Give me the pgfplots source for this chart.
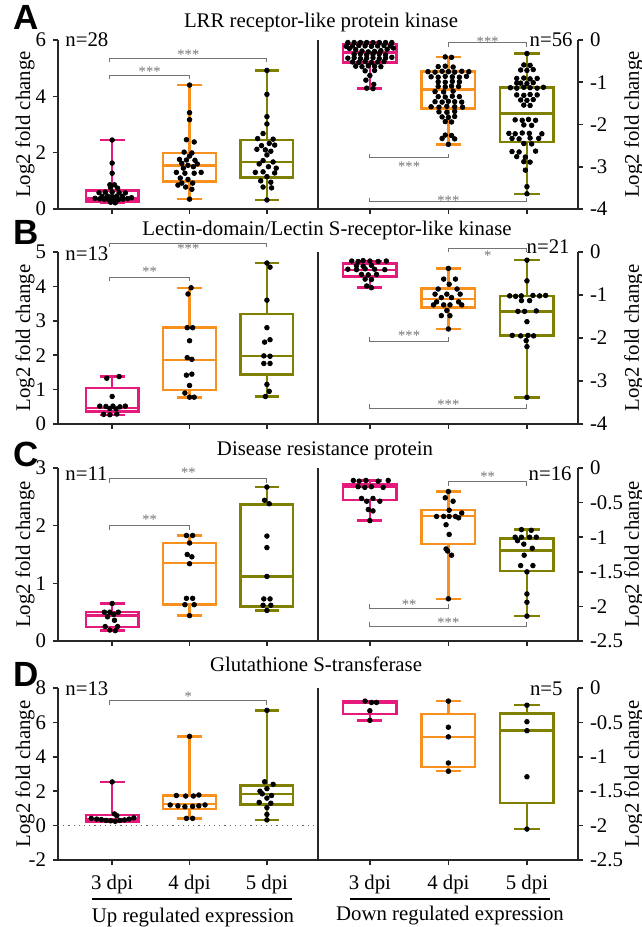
\documentclass[border=0pt]{standalone}
\usepackage{fontspec}
\setmainfont{Liberation Serif}
\newfontfamily\hv{Liberation Sans}
\usepackage{pgfplots}
\pgfplotsset{compat=1.18}
\usepgfplotslibrary{statistics}

\definecolor{cpink}{RGB}{230,25,125}
\definecolor{corange}{RGB}{247,144,30}
\definecolor{colive}{RGB}{128,128,0}
\newcommand{\tf}{\fontsize{10.4}{12}\selectfont}
\newcommand{\stf}{\fontsize{7.3}{8}\selectfont}
\tikzset{axl/.style={black!85, line width=0.8pt}}

\pgfplotsset{
  base/.style={
    scale only axis, width=130pt, clip=false, anchor=south west,
    axis x line*=bottom,
    axis line style={-, black!85, line width=0.8pt},
    tick style={black!85, line width=0.8pt},
    tick align=outside, major tick length=2.5pt,
    xtick={1,2,3},
    tick label style={font=\tf},
    xticklabel style={yshift=-1.5pt},
    label style={font=\tf},
    ylabel={Log2 fold change},
  },
  L/.style={base, axis y line*=left, xmin=0.3, xmax=3.66,
    ylabel style={at={(axis description cs:-0.127,0.5)}, anchor=center}},
  R/.style={base, axis y line*=right, xmin=0.34, xmax=3.65,
    ylabel style={at={(axis description cs:1.215,0.5)}, anchor=center}},
  nox/.style={xticklabels={,,}},
}

% colour, position, lower whisker, lower quartile, median, upper quartile, upper whisker
\newcommand{\bx}[7]{\addplot[#1, line width=1.2pt, boxplot prepared={draw direction=y, draw position=#2,
  lower whisker=#3, lower quartile=#4, median=#5, upper quartile=#6, upper whisker=#7,
  box extend=0.68, whisker extend=0.32}] coordinates {};}
\newcommand{\pts}[1]{\addplot[only marks, mark=*, mark size=1.15pt, black] coordinates {#1};}
% x1, x2, y, tick shift, label y, label
\newcommand{\brk}[6]{%
  \draw[black!55, line width=0.5pt] ([yshift=#4]axis cs:#1,#3) -- (axis cs:#1,#3) -- (axis cs:#2,#3) -- ([yshift=#4]axis cs:#2,#3);
  \node[black!55, font=\stf, inner sep=0pt, yshift=-1pt] at (axis cs:{(#1+#2)/2},#5) {#6};}

\begin{document}
\begin{tikzpicture}
\useasboundingbox (0,0) rectangle (321pt,-463.5pt);

% ---------------- A ----------------
\begin{axis}[L, nox, at={(29pt,-104.5pt)}, height=84.5pt, ymin=0, ymax=6,
  ytick={0,2,4,6}, yticklabels={0,2,4,6}]
  \draw[axl] (rel axis cs:1,0) -- (rel axis cs:1,1);
  \bx{cpink}{1}{0.22}{0.26}{0.38}{0.65}{2.45}
  \bx{corange}{2}{0.35}{0.98}{1.55}{1.99}{4.40}
  \bx{colive}{3}{0.32}{1.12}{1.67}{2.46}{4.92}
  \pts{(1,2.45) (1,1.63) (1,1.27) (0.97,0.86) (1.03,0.86) (0.98,0.76) (1.07,0.74) (0.83,0.58) (0.91,0.6) (1.0,0.6) (1.09,0.58) (1.17,0.57) (0.87,0.45) (0.94,0.46) (1.0,0.44) (1.06,0.46) (1.13,0.45) (0.78,0.38) (0.84,0.36) (0.9,0.34) (0.96,0.33) (1.02,0.32) (1.08,0.33) (1.14,0.35) (1.2,0.37) (1.25,0.4) (0.98,0.24) (1.04,0.22)}
  \pts{(2,4.40) (2,3.42) (2,3.17) (1.96,2.46) (2.06,2.38) (1.93,2.02) (2.03,1.99) (2.0,1.88) (1.87,1.76) (1.96,1.74) (2.07,1.73) (1.9,1.62) (2.1,1.6) (1.98,1.55) (2.05,1.5) (1.92,1.45) (1.83,1.3) (1.94,1.27) (2.06,1.27) (2.15,1.3) (1.88,1.1) (1.98,1.05) (1.9,0.92) (2.04,0.92) (1.85,0.85) (1.95,0.78) (2.03,0.7) (2.0,0.35)}
  \pts{(3,4.92) (3,4.07) (3,3.28) (3,3.02) (2.95,2.68) (2.88,2.5) (3.08,2.48) (3.03,2.33) (2.93,2.25) (3.1,2.27) (2.87,2.12) (2.98,2.1) (3.05,2.05) (3.0,1.92) (2.95,1.72) (3.08,1.67) (2.9,1.6) (3.02,1.5) (3.12,1.45) (2.85,1.3) (2.95,1.32) (3.1,1.28) (3.0,1.15) (2.92,1.0) (3.05,0.95) (2.95,0.78) (3.06,0.75) (3.0,0.32)}
  \brk{0.97}{2}{4.75}{-2pt}{4.93}{***}
  \brk{0.97}{3}{5.36}{-2pt}{5.56}{***}
\end{axis}
\begin{axis}[R, nox, at={(159pt,-104.5pt)}, height=84.5pt, ymin=-4, ymax=0,
  ytick={-4,-3,-2,-1,0}, yticklabels={-4,-3,-2,-1,0}]
  \bx{cpink}{1}{-1.15}{-0.53}{-0.3}{-0.09}{-0.06}
  \bx{corange}{2}{-2.47}{-1.62}{-1.17}{-0.75}{-0.40}
  \bx{colive}{3}{-3.64}{-2.42}{-1.74}{-1.12}{-0.32}
  \pts{(0.72,-0.06)(0.8,-0.06)(0.88,-0.06)(0.96,-0.06)(1.04,-0.06)(1.12,-0.06)(1.2,-0.06)(1.28,-0.06)
  (0.7,-0.15)(0.78,-0.14)(0.86,-0.13)(0.94,-0.14)(1.02,-0.15)(1.1,-0.14)(1.18,-0.13)(1.26,-0.14)
  (0.74,-0.2)(0.82,-0.23)(0.9,-0.26)(0.98,-0.28)(1.06,-0.27)(1.14,-0.25)(1.22,-0.22)(1.3,-0.19)
  (0.8,-0.34)(0.88,-0.33)(0.96,-0.35)(1.04,-0.34)(1.12,-0.33)(1.2,-0.35)
  (0.72,-0.43)(0.8,-0.42)(0.88,-0.44)(0.96,-0.43)(1.04,-0.42)(1.12,-0.44)(1.2,-0.43)(1.28,-0.41)
  (0.78,-0.52)(0.86,-0.53)(0.94,-0.51)(1.02,-0.53)(1.1,-0.52)(1.18,-0.51)
  (0.82,-0.62)(0.9,-0.63)(0.98,-0.61)(1.06,-0.62)(1.14,-0.63)
  (0.94,-0.73)(1.06,-0.72)(1.0,-0.84)(0.95,-0.95)(1.05,-1.05)(0.96,-1.14)(1.04,-1.15)}
  \pts{(1.96,-0.40)(2.04,-0.41)
  (1.87,-0.63)(1.96,-0.62)(2.06,-0.64)
  (1.74,-0.75)(1.83,-0.76)(1.92,-0.74)(2.0,-0.75)(2.08,-0.76)(2.17,-0.74)(2.26,-0.75)
  (1.78,-0.87)(1.87,-0.88)(1.96,-0.86)(2.05,-0.87)(2.14,-0.88)(2.23,-0.86)
  (1.87,-0.99)(1.96,-1.0)(2.05,-0.98)(2.14,-0.99)
  (1.87,-1.1)(1.96,-1.11)(2.04,-1.09)(2.13,-1.1)
  (1.83,-1.22)(1.94,-1.23)(2.06,-1.21)
  (1.87,-1.34)(1.96,-1.35)(2.05,-1.33)(2.14,-1.34)
  (1.83,-1.46)(1.92,-1.47)(2.0,-1.45)(2.08,-1.46)(2.17,-1.47)
  (1.78,-1.58)(1.88,-1.59)(1.98,-1.57)(2.08,-1.58)(2.18,-1.59)
  (1.88,-1.7)(1.98,-1.71)(2.08,-1.69)
  (1.92,-1.82)(2.0,-1.83)(2.08,-1.81)
  (1.96,-1.93)(2.04,-1.94)
  (1.96,-2.25)(2.04,-2.26)(1.92,-2.33)(2.08,-2.34)(2.0,-2.47)}
  \pts{(3.0,-0.32)
  (2.96,-0.59)(3.04,-0.6)
  (2.92,-0.71)(3.0,-0.72)(3.08,-0.7)
  (2.87,-0.91)(2.96,-0.9)(3.04,-0.92)(3.13,-0.91)
  (2.87,-1.02)(2.92,-1.02)(3.0,-1.03)(3.08,-1.01)
  (2.79,-1.13)(2.87,-1.14)(2.96,-1.12)(3.04,-1.13)(3.13,-1.14)(3.21,-1.12)
  (2.87,-1.3)(2.96,-1.31)(3.04,-1.29)(3.13,-1.3)
  (2.92,-1.42)(3.0,-1.43)(3.08,-1.41)
  (2.96,-1.54)(3.04,-1.55)
  (2.85,-1.89)(2.94,-1.9)(3.02,-1.88)(3.11,-1.9)
  (2.96,-2.01)(3.06,-2.02)
  (2.77,-2.21)(2.85,-2.22)(2.94,-2.2)(3.03,-2.21)(3.19,-2.22)
  (2.81,-2.33)(2.9,-2.34)(3.04,-2.32)(3.15,-2.33)
  (2.96,-2.45)(3.06,-2.46)
  (2.81,-2.64)(2.9,-2.65)(3.11,-2.63)
  (2.87,-2.76)(2.98,-2.77)
  (2.96,-2.88)(3.04,-2.89)
  (2.98,-3.08)(3.0,-3.47)(3.0,-3.64)}
  \brk{2}{3}{-0.07}{-2pt}{0.0}{***}
  \brk{1}{2}{-2.79}{2pt}{-2.96}{***}
  \brk{1}{3}{-3.83}{2pt}{-3.76}{***}
\end{axis}

% ---------------- B ----------------
\begin{axis}[L, nox, at={(29pt,-212pt)}, height=86pt, ymin=0, ymax=5,
  ytick={0,1,2,3,4,5}, yticklabels={0,1,2,3,4,5}]
  \draw[axl] (rel axis cs:1,0) -- (rel axis cs:1,1);
  \bx{cpink}{1}{0.27}{0.36}{0.47}{1.04}{1.38}
  \bx{corange}{2}{0.77}{0.99}{1.86}{2.80}{3.96}
  \bx{colive}{3}{0.8}{1.44}{1.98}{3.19}{4.68}
  \pts{(1.09,1.38) (0.93,1.33) (1.0,0.80) (0.84,0.52) (0.92,0.51) (1.01,0.52) (1.1,0.5) (1.17,0.52) (0.97,0.45) (1.05,0.44) (0.89,0.28) (0.97,0.27) (1.06,0.29)}
  \pts{(2.02,3.96)(1.98,3.78)(1.97,2.8)(2.04,2.8)(2.0,2.42)(1.97,1.93)(2.03,1.88)(1.96,1.42)(2.03,1.45)(2.0,1.12)(1.94,0.9)(2.0,0.78)(2.06,0.78)}
  \pts{(3.0,4.68)(3.04,4.56)(3.0,3.6)(3.0,2.8)(3.04,2.45)(2.97,2.38)(2.96,1.98)(3.04,1.97)(2.96,1.76)(3.04,1.76)(3.0,1.15)(3.03,0.95)(2.98,0.8)}
  \brk{0.97}{2}{4.27}{-2pt}{4.48}{**}
  \brk{0.97}{3}{5.26}{-2pt}{5.15}{***}
\end{axis}
\begin{axis}[R, nox, at={(159pt,-212pt)}, height=86pt, ymin=-4, ymax=0,
  ytick={-4,-3,-2,-1,0}, yticklabels={-4,-3,-2,-1,0}]
  \bx{cpink}{1}{-0.83}{-0.57}{-0.42}{-0.27}{-0.21}
  \bx{corange}{2}{-1.79}{-1.29}{-1.09}{-0.85}{-0.38}
  \bx{colive}{3}{-3.38}{-1.94}{-1.38}{-1.02}{-0.19}
  \pts{(0.77,-0.21)(0.85,-0.22)(0.915,-0.2)(1.0,-0.21)(1.106,-0.22)(1.21,-0.21)
  (0.83,-0.32)(0.915,-0.33)(1.02,-0.31)
  (0.72,-0.4)(0.83,-0.41)(0.94,-0.39)(1.06,-0.4)(1.19,-0.41)
  (0.894,-0.52)(0.98,-0.53)(1.085,-0.52)
  (0.94,-0.63)(1.02,-0.64)(0.96,-0.79)(1.02,-0.83)}
  \pts{(2.0,-0.38)(1.94,-0.63)(2.09,-0.63)(2.01,-0.75)(1.87,-0.86)(2.11,-0.86)(1.83,-0.98)(1.98,-0.98)(2.15,-0.98)(1.91,-1.06)(2.04,-1.06)(1.85,-1.16)(2.13,-1.16)(1.81,-1.23)(1.94,-1.23)(2.02,-1.23)(2.17,-1.23)(1.98,-1.36)(1.91,-1.48)(2.02,-1.48)(2.0,-1.79)}
  \pts{(3.0,-0.19)(3.0,-0.67)
  (2.78,-1.02)(2.856,-1.03)(2.928,-1.02)(3.076,-1.01)(3.161,-1.02)(3.238,-1.01)
  (2.93,-1.13)(3.034,-1.13)
  (2.885,-1.38)(2.97,-1.38)(3.119,-1.37)(3.0,-1.62)
  (2.813,-1.94)(2.92,-1.95)(3.013,-1.94)(3.085,-1.95)
  (2.99,-2.06)(3.0,-2.2)(3.0,-3.38)}
  \brk{2}{3}{0.09}{-2pt}{-0.05}{*}
  \brk{1}{2}{-2.08}{2pt}{-1.90}{***}
  \brk{1}{3}{-3.63}{2pt}{-3.51}{***}
\end{axis}

% ---------------- C ----------------
\begin{axis}[L, nox, at={(29pt,-320.5pt)}, height=86.5pt, ymin=0, ymax=3,
  ytick={0,1,2,3}, yticklabels={0,1,2,3}]
  \draw[axl] (rel axis cs:1,0) -- (rel axis cs:1,1);
  \bx{cpink}{1}{0.18}{0.24}{0.44}{0.50}{0.65}
  \bx{corange}{2}{0.44}{0.63}{1.35}{1.70}{1.83}
  \bx{colive}{3}{0.53}{0.60}{1.12}{2.37}{2.67}
  \pts{(1.0,0.65)(0.9,0.5)(0.97,0.5)(1.08,0.5)(1.02,0.46)(0.94,0.42)(1.03,0.36)(0.91,0.25)(1.07,0.25)(0.97,0.19)(1.04,0.18)}
  \pts{(1.96,1.83)(2.04,1.83)(2.0,1.70)(1.97,1.50)(2.03,1.46)(2.0,1.34)(1.96,0.74)(2.04,0.74)(1.94,0.63)(2.06,0.63)(2.0,0.44)}
  \pts{(3.0,2.67)(2.97,2.44)(3.03,2.38)(3.0,1.82)(3.0,1.62)(3.0,1.12)(2.96,0.73)(3.04,0.73)(2.95,0.62)(3.05,0.62)(3.0,0.53)}
  \brk{0.97}{2}{2.0}{-2pt}{2.14}{**}
  \brk{0.97}{3}{2.81}{-2pt}{2.95}{**}
\end{axis}
\begin{axis}[R, nox, at={(159pt,-320.5pt)}, height=86.5pt, ymin=-2.5, ymax=0,
  ytick={-2.5,-2,-1.5,-1,-0.5,0}, yticklabels={-2.5,-2,-1.5,-1,-0.5,0}]
  \bx{cpink}{1}{-0.76}{-0.46}{-0.27}{-0.23}{-0.18}
  \bx{corange}{2}{-1.89}{-1.10}{-0.69}{-0.61}{-0.34}
  \bx{colive}{3}{-2.14}{-1.49}{-1.19}{-1.02}{-0.89}
  \pts{(0.79,-0.18)(0.864,-0.19)(0.95,-0.18)(1.106,-0.19)(1.234,-0.18)(0.851,-0.27)(0.936,-0.28)(1.02,-0.27)(1.17,-0.28)(0.894,-0.44)(1.04,-0.44)(0.96,-0.48)(1.127,-0.48)(0.98,-0.6)(1.04,-0.62)(1.0,-0.76)}
  \pts{(2.0,-0.34)(1.96,-0.43)(2.06,-0.48)(2.01,-0.61)(2.17,-0.65)(1.85,-0.7)(1.94,-0.7)(2.01,-0.7)(2.09,-0.7)(2.13,-0.72)(1.97,-0.82)(2.01,-0.96)(1.97,-1.17)(1.99,-1.2)(2.04,-1.26)(2.0,-1.89)}
  \pts{(2.93,-0.89)(3.055,-0.9)(2.85,-1.0)(2.93,-1.0)(3.034,-1.0)(3.119,-1.0)(2.88,-1.05)(2.96,-1.1)(3.068,-1.16)(2.965,-1.26)(2.92,-1.41)(3.076,-1.41)(3.0,-1.5)(3.0,-1.82)(3.0,-1.94)(3.0,-2.14)}
  \brk{2}{3}{-0.2}{-2pt}{-0.1}{**}
  \brk{1}{2}{-2.03}{2pt}{-1.94}{**}
  \brk{1}{3}{-2.29}{2pt}{-2.21}{***}
\end{axis}

% ---------------- D ----------------
\begin{axis}[L, at={(29pt,-430pt)}, height=86pt, ymin=-2, ymax=8,
  ytick={-2,0,2,4,6,8}, yticklabels={-2,0,2,4,6,8},
  xticklabels={3 dpi,4 dpi,5 dpi}]
  \draw[axl] (rel axis cs:1,0) -- (rel axis cs:1,1);
  \draw[dotted, black!60, line width=0.6pt] (axis cs:0.3,0) -- (axis cs:3.66,0);
  \bx{cpink}{1}{0.25}{0.25}{0.39}{0.6}{2.54}
  \bx{corange}{2}{0.41}{0.97}{1.26}{1.76}{5.19}
  \bx{colive}{3}{0.33}{1.22}{1.84}{2.34}{6.70}
  \pts{(1,2.54)(1.03,0.68)(1.06,0.58)(0.73,0.42)(0.8,0.38)(0.86,0.35)(0.92,0.3)(0.98,0.28)(1.04,0.25)(1.1,0.3)(1.16,0.33)(1.22,0.38)(1.28,0.45)}
  \pts{(2,5.19)(1.83,1.75)(1.95,1.72)(2.05,1.72)(2.12,1.78)(1.75,1.2)(1.85,1.15)(1.94,1.1)(2.04,1.12)(2.12,1.15)(2.2,1.2)(1.96,0.42)(2.04,0.42)}
  \pts{(3,6.7)(2.97,2.55)(3.08,2.4)(3.0,2.15)(2.91,2.0)(2.94,1.85)(3.06,1.75)(3.0,1.6)(2.9,1.35)(3.05,1.3)(3.0,1.05)(3.0,0.65)(3.0,0.33)}
  \brk{0.97}{3}{7.27}{-2pt}{7.6}{*}
\end{axis}
\begin{axis}[R, at={(159pt,-430pt)}, height=86pt, ymin=-2.5, ymax=0,
  ytick={-2.5,-2,-1.5,-1,-0.5,0}, yticklabels={-2.5,-2,-1.5,-1,-0.5,0},
  xticklabels={3 dpi,4 dpi,5 dpi}]
  \bx{cpink}{1}{-0.47}{-0.38}{-0.21}{-0.19}{-0.19}
  \bx{corange}{2}{-1.21}{-1.15}{-0.71}{-0.38}{-0.19}
  \bx{colive}{3}{-2.05}{-1.67}{-0.62}{-0.37}{-0.25}
  \pts{(0.94,-0.19)(1.02,-0.21)(1.085,-0.21)(1.0,-0.33)(1.0,-0.47)}
  \pts{(2,-0.19)(2,-0.57)(2,-0.71)(2,-1.09)(2,-1.21)}
  \pts{(3,-0.25)(3,-0.49)(3,-0.62)(3,-1.29)(3,-2.05)}
\end{axis}

% ---------------- annotations ----------------
\foreach \l/\y in {A/-8.5,B/-116.3,C/-227.3,D/-337.3}
  \node[font=\hv\bfseries\fontsize{17.5}{18}\selectfont] at (13pt,\y pt) {\l};
\node[font=\tf, anchor=base] at (160.5pt,-13.5pt) {LRR receptor-like protein kinase};
\node[font=\tf, anchor=base] at (163.5pt,-117.5pt) {Lectin-domain/Lectin S-receptor-like kinase};
\node[font=\tf, anchor=base] at (162.5pt,-227.5pt) {Disease resistance protein};
\node[font=\tf, anchor=base] at (158pt,-335.5pt) {Glutathione S-transferase};
\node[font=\tf, anchor=base west, inner sep=0pt] at (32.5pt,-23.3pt) {n=28};
\node[font=\tf, anchor=base east, inner sep=0pt] at (286.5pt,-23.3pt) {n=56};
\node[font=\tf, anchor=base west, inner sep=0pt] at (32.5pt,-130pt) {n=13};
\node[font=\tf, anchor=base east, inner sep=0pt] at (285pt,-126.7pt) {n=21};
\node[font=\tf, anchor=base west, inner sep=0pt] at (32.5pt,-240pt) {n=11};
\node[font=\tf, anchor=base east, inner sep=0pt] at (286pt,-240pt) {n=16};
\node[font=\tf, anchor=base west, inner sep=0pt] at (32.5pt,-347.8pt) {n=13};
\node[font=\tf, anchor=base east, inner sep=0pt] at (281.5pt,-347.5pt) {n=5};
\draw[black, line width=0.8pt] (46pt,-449.5pt) -- (146pt,-449.5pt);
\draw[black, line width=0.8pt] (175pt,-449.5pt) -- (275pt,-449.5pt);
\node[font=\tf, anchor=base] at (96.5pt,-461pt) {Up regulated expression};
\node[font=\tf, anchor=base] at (225pt,-460pt) {Down regulated expression};
\end{tikzpicture}
\end{document}
